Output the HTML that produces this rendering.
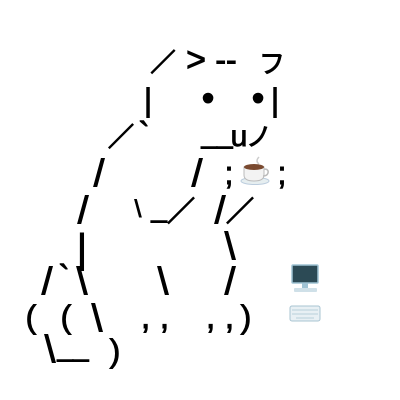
<!DOCTYPE html>
<html><head><meta charset="utf-8"><style>
html,body{margin:0;padding:0;background:#fff;width:400px;height:400px;overflow:hidden}
svg text{font-family:"Liberation Sans","Noto Sans CJK JP",sans-serif;font-size:28px;fill:#000;stroke:#000;stroke-width:0.9;text-anchor:middle}
svg text.s{font-size:38px;stroke-width:1.1}
svg text.w{font-family:"Noto Sans CJK JP",sans-serif;font-size:28px;stroke-width:1.3}
</style></head><body>
<svg width="400" height="400" viewBox="0 0 400 400">
<text class="w" x="163" y="71" style="font-size:25px">／</text>
<text x="196" y="71" style="font-size:34px">&gt;</text>
<text x="226" y="71" style="font-size:32px">--</text>
<text x="272" y="73" style="font-size:26px">フ</text>
<text x="148" y="111" style="font-size:32px">|</text>
<text x="208" y="110" style="font-size:36px">•</text>
<text x="258" y="110" style="font-size:36px">•</text>
<text x="275" y="111" style="font-size:32px">|</text>
<text class="w" x="121" y="146" style="font-size:26px">／</text>
<text x="144" y="146" style="font-size:34px">`</text>
<text x="217" y="143">__</text>
<text x="239" y="146" style="font-size:30px">u</text>
<text x="259" y="146" style="font-size:26px">ノ</text>
<text class="s" x="99" y="186">/</text>
<text class="s" x="197" y="186">/</text>
<text x="229" y="184" style="font-size:32px">;</text>
<text x="282" y="184" style="font-size:32px">;</text>
<text class="s" x="83" y="223">/</text>
<text x="138" y="217" style="font-size:24px">\</text>
<text x="159" y="217">_</text>
<text class="w" x="181" y="221">／</text>
<text class="s" x="220" y="223">/</text>
<text class="w" x="240" y="221">／</text>
<text x="82" y="262" style="font-size:40px">|</text>
<text class="s" x="230" y="259">\</text>
<text class="s" x="47" y="294">/</text>
<text x="64" y="289" style="font-size:34px">`</text>
<text class="s" x="82" y="294">\</text>
<text class="s" x="163" y="294">\</text>
<text class="s" x="230" y="294">/</text>
<text x="31" y="328" style="font-size:32px">(</text>
<text x="66" y="328" style="font-size:32px">(</text>
<text class="s" x="97" y="331">\</text>
<text x="155" y="328" style="font-size:34px">, ,</text>
<text x="220" y="328" style="font-size:34px">, ,</text>
<text x="246" y="328" style="font-size:32px">)</text>
<text class="s" x="50" y="362">\</text>
<text x="73" y="356">__</text>
<text x="115" y="362" style="font-size:32px">)</text>
<!-- coffee cup -->
<path d="M259 157 q-4 4 0 7" fill="none" stroke="#ccc" stroke-width="1.5"/>
<ellipse cx="255" cy="181" rx="14" ry="3.5" fill="#e6eef0" stroke="#bcd" stroke-width="1"/>
<path d="M244 167 h20 v8 q0 6 -10 6 q-10 0 -10 -6 z" fill="#f3f3f3" stroke="#bbb" stroke-width="1"/>
<ellipse cx="254" cy="167" rx="10" ry="3" fill="#7a4a30"/>
<path d="M264 169 q5 0 4 4 q-1 3 -5 3" fill="none" stroke="#bbb" stroke-width="1.5"/>
<!-- monitor -->
<rect x="292" y="265" width="26" height="18" rx="1" fill="#2c4a55" stroke="#9fc3d4" stroke-width="1.5"/>
<rect x="302" y="283" width="6" height="5" fill="#9fc3d4"/>
<rect x="294" y="288" width="23" height="4" rx="1" fill="#cfe0e8"/>
<!-- keyboard -->
<rect x="290" y="306" width="30" height="15" rx="2" fill="#e8f0f4" stroke="#a9c4d2" stroke-width="1"/>
<g stroke="#b9cfda" stroke-width="1"><line x1="292" y1="310" x2="318" y2="310"/><line x1="292" y1="314" x2="318" y2="314"/><line x1="296" y1="318" x2="314" y2="318"/></g>
</svg>
</body></html>
